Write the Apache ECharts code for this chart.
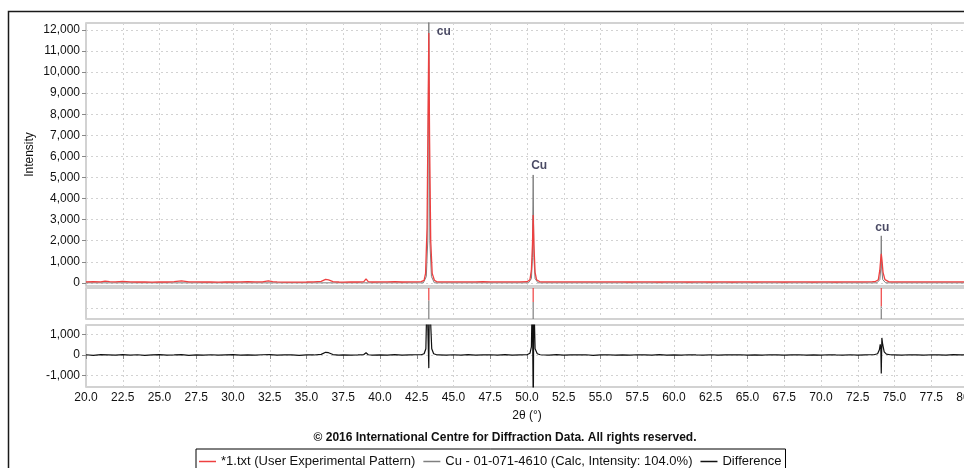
<!DOCTYPE html>
<html>
<head>
<meta charset="utf-8">
<script src="https://cdn.jsdelivr.net/npm/echarts@6/dist/echarts.min.js"></script>
<style>
  html, body { margin: 0; padding: 0; background: #fff; }
  #xrd { width: 964px; height: 468px; }
</style>
</head>
<body>
<div id="xrd"></div>
<script>
// experimental pattern (red): [2theta, counts]
const expBaseline = [
  [20.0, 45], [20.5, 60], [21.0, 50], [21.3, 85], [21.6, 55], [22.0, 48], [22.5, 70], [23.0, 42],
  [23.5, 40], [24.0, 45], [24.5, 38], [25.0, 44], [25.5, 40], [26.0, 55], [26.5, 90], [27.0, 50],
  [27.5, 42], [28.0, 40], [28.5, 45], [29.0, 38], [29.5, 42], [30.0, 40], [30.5, 48], [31.0, 55],
  [31.5, 42], [32.0, 50], [32.4, 95], [32.7, 60], [33.0, 45], [33.5, 35], [34.0, 38], [34.5, 36],
  [35.0, 40], [35.5, 45], [36.0, 70], [36.3, 160], [36.5, 140], [36.8, 60], [37.2, 40], [37.5, 38],
  [38.0, 42], [38.5, 40], [38.9, 60], [39.05, 190], [39.2, 55], [39.5, 40], [40.0, 42], [40.5, 45],
  [41.0, 60], [41.5, 40], [42.0, 42], [42.5, 45],
  [44.0, 48], [44.5, 42], [45.0, 44], [45.5, 50], [46.0, 45], [46.5, 42], [47.0, 55], [47.5, 45],
  [48.0, 48], [48.5, 44], [49.0, 50], [49.5, 46], [50.0, 55],
  [51.0, 50], [51.5, 45], [52.0, 50], [52.5, 48], [53.0, 44], [53.5, 50], [54.0, 42], [54.5, 45],
  [55.0, 48], [55.5, 44], [56.0, 42], [56.5, 46], [57.0, 40], [57.5, 44], [58.0, 42], [58.5, 48],
  [59.0, 40], [59.5, 45], [60.0, 42], [60.5, 44], [61.0, 40], [61.5, 46], [62.0, 42], [62.5, 40],
  [63.0, 44], [63.5, 42], [64.0, 40], [64.5, 45], [65.0, 42], [65.5, 40], [66.0, 44], [66.5, 48],
  [67.0, 42], [67.5, 40], [68.0, 44], [68.5, 42], [69.0, 45], [69.5, 40], [70.0, 42], [70.5, 44],
  [71.0, 40], [71.5, 46], [72.0, 42], [72.5, 44], [73.0, 48], [73.5, 55],
  [74.8, 50], [75.0, 46], [75.5, 44], [76.0, 42], [76.5, 45], [77.0, 48], [77.5, 44], [78.0, 42],
  [78.5, 46], [79.0, 44], [79.5, 50], [80.0, 48]
];
const expPeak43 = [[42.8, 55], [43.0, 120], [43.1, 450], [43.2, 2600], [43.27, 8000], [43.32, 11850], [43.37, 7000], [43.45, 2000], [43.55, 450], [43.7, 120], [43.85, 60]];
const expPeak50 = [[50.05, 60], [50.2, 150], [50.3, 600], [50.37, 1800], [50.42, 3220], [50.47, 1800], [50.55, 500], [50.65, 150], [50.85, 60]];
const expPeak74 = [[73.7, 60], [73.9, 150], [74.0, 600], [74.06, 1100], [74.1, 1380], [74.15, 1050], [74.22, 500], [74.35, 150], [74.6, 60]];

// calculated Cu pattern (grey)
const calcPattern = [
  [20.0, 0], [42.95, 0], [43.15, 300], [43.25, 2000], [43.32, 13000], [43.39, 2000], [43.5, 300], [43.7, 0],
  [50.1, 0], [50.3, 200], [50.37, 1200], [50.42, 5120], [50.47, 1200], [50.55, 200], [50.75, 0],
  [73.8, 0], [74.0, 150], [74.07, 700], [74.1, 2230], [74.13, 700], [74.2, 150], [74.4, 0], [80.0, 0]
];

// difference curve (black)
const diffBaseline = [
  [20.0, 10], [20.5, -15], [21.0, 20], [21.5, 5], [22.0, -10], [22.5, 15], [23.0, -5], [23.5, 10],
  [24.0, -20], [24.5, 5], [25.0, 15], [25.5, -10], [26.0, 0], [26.5, 20], [27.0, -15], [27.5, 5],
  [28.0, -5], [28.5, 10], [29.0, -10], [29.5, 5], [30.0, 15], [30.5, -10], [31.0, 5], [31.5, -5],
  [32.0, 10], [32.5, 20], [33.0, -10], [33.5, 0], [34.0, 5], [34.5, -15], [35.0, 5], [35.5, 0],
  [36.0, 30], [36.3, 130], [36.5, 110], [36.8, 20], [37.2, -5], [37.5, 5], [38.0, -10], [38.5, 0],
  [38.9, 20], [39.05, 110], [39.2, 10], [39.5, -5], [40.0, 5], [40.5, -10], [41.0, 15], [41.5, -5],
  [42.0, 5], [42.5, 10],
  [44.0, 5], [44.5, -10], [45.0, 10], [45.5, -5], [46.0, 15], [46.5, -10], [47.0, 5], [47.5, 10],
  [48.0, -5], [48.5, 15], [49.0, -10], [49.5, 5],
  [51.0, 10], [51.5, -5], [52.0, 15], [52.5, -10], [53.0, 5], [53.5, 0], [54.0, 10], [54.5, -15],
  [55.0, 5], [55.5, 10], [56.0, -5], [56.5, 5], [57.0, -10], [57.5, 10], [58.0, 0], [58.5, -10],
  [59.0, 15], [59.5, -5], [60.0, 5], [60.5, -10], [61.0, 10], [61.5, 0], [62.0, -5], [62.5, 10],
  [63.0, -10], [63.5, 5], [64.0, 0], [64.5, 10], [65.0, -10], [65.5, 5], [66.0, -5], [66.5, 10],
  [67.0, 0], [67.5, -10], [68.0, 5], [68.5, 10], [69.0, -5], [69.5, 5], [70.0, -10], [70.5, 10],
  [71.0, 0], [71.5, -5], [72.0, 10], [72.5, -10], [73.0, 5], [73.3, 10],
  [75.0, 5], [75.5, -5], [76.0, 10], [76.5, 0], [77.0, -10], [77.5, 10], [78.0, 5], [78.5, -5],
  [79.0, 15], [79.5, 5], [80.0, 10]
];
const diffPeak43 = [[42.8, 10], [43.0, 60], [43.12, 300], [43.2, 3000], [43.28, 3000], [43.32, -640], [43.36, 3000], [43.44, 3000], [43.52, 300], [43.65, 60], [43.85, 10]];
const diffPeak50 = [[50.0, 10], [50.2, 80], [50.3, 400], [50.36, 3000], [50.4, 3000], [50.43, -3000], [50.46, 3000], [50.5, 3000], [50.55, 300], [50.7, 60], [50.9, 10]];
const diffPeak74 = [[73.6, 10], [73.85, 60], [73.97, 250], [74.03, 520], [74.07, 300], [74.1, -900], [74.14, 830], [74.2, 500], [74.3, 150], [74.45, 40], [74.7, 10]];

// reflection sticks (middle strip): [2theta, height where grey part ends (0..1)]
const sticks = [[43.32, 0.6], [50.42, 0.55], [74.1, 0.4]];

// peak labels
const peakLabels = [
  { x: 43.32, y: 11900, text: 'cu' },
  { x: 50.42, y: 5550, text: 'Cu' },
  { x: 74.1, y: 2600, text: 'cu' }
];
const labelOffsets = [[8, 0], [-2, 0], [1, 0]];
const labelAligns = ['left', 'left', 'center'];

const seriesNames = ['*1.txt (User Experimental Pattern)', 'Cu - 01-071-4610 (Calc, Intensity: 104.0%)', 'Difference'];

const byX = (a, b) => a[0] - b[0];
const expData = [...expBaseline, ...expPeak43, ...expPeak50, ...expPeak74].sort(byX);
const diffData = [...diffBaseline, ...diffPeak43, ...diffPeak50, ...diffPeak74].sort(byX);

const RED = '#ee4040';
const GREY = '#7f7f7f';
const FONT = 'Liberation Sans, Arial, sans-serif';
const gridLine = { show: true, lineStyle: { color: '#d2d2d2', type: [2, 3], width: 1 } };

function thousands(v) {
  const s = String(Math.abs(Math.round(v))).replace(/\B(?=(\d{3})+(?!\d))/g, ',');
  return (v < 0 ? '-' : '') + s;
}

const chart = echarts.init(document.getElementById('xrd'));

const xAxes = [0, 1, 2].map(i => ({
  type: 'value',
  gridIndex: i,
  min: 20,
  max: 80,
  interval: 2.5,
  axisLine: { show: false },
  axisTick: { show: i === 2, length: 4, lineStyle: { color: '#888' } },
  axisLabel: {
    show: i === 2,
    margin: 5,
    color: '#111',
    fontSize: 12,
    fontFamily: FONT,
    formatter: v => v.toFixed(1)
  },
  splitLine: gridLine,
  name: i === 2 ? '2θ (°)' : '',
  nameLocation: 'middle',
  nameGap: 23,
  nameMoveOverlap: false,
  nameTextStyle: { color: '#111', fontSize: 12, fontFamily: FONT }
}));

const yLabel = {
  margin: 6,
  color: '#111',
  fontSize: 12,
  fontFamily: FONT,
  showMinLabel: false,
  showMaxLabel: false,
  formatter: thousands
};

const gridBase = { left: 86, right: -4, show: true, borderColor: '#c4c4c4', borderWidth: 1.5, outerBoundsMode: 'none', containLabel: false };
const legendLine = 'path://M0,0 L16,0 L16,1.4 L0,1.4 Z';

const option = {
  animation: false,
  grid: [
    Object.assign({ top: 23, height: 263 }, gridBase),
    Object.assign({ top: 288, height: 31 }, gridBase),
    Object.assign({ top: 325, height: 62 }, gridBase)
  ],
  xAxis: xAxes,
  yAxis: [
    {
      type: 'value', gridIndex: 0, min: -150, max: 12330, splitNumber: 12,
      axisLine: { show: false },
      axisTick: { show: true, length: 4, lineStyle: { color: '#888' } },
      axisLabel: yLabel,
      splitLine: gridLine,
      name: 'Intensity',
      nameLocation: 'middle',
      nameGap: 50,
      nameMoveOverlap: false,
      nameTextStyle: { color: '#111', fontSize: 12, fontFamily: FONT }
    },
    {
      type: 'value', gridIndex: 1, min: 0, max: 1,
      axisLine: { show: false }, axisTick: { show: false }, axisLabel: { show: false },
      splitLine: { show: false }
    },
    {
      type: 'value', gridIndex: 2, min: -1560, max: 1460, splitNumber: 3,
      axisLine: { show: false },
      axisTick: { show: true, length: 4, lineStyle: { color: '#888' } },
      axisLabel: yLabel,
      splitLine: gridLine
    }
  ],
  legend: {
    data: seriesNames.map(n => ({ name: n, icon: legendLine })),
    left: 196,
    top: 449,
    padding: [6, 4, 6, 3],
    itemGap: 8,
    itemWidth: 17,
    itemHeight: 14,
    borderColor: '#000',
    borderWidth: 1,
    borderRadius: 0,
    textStyle: { color: '#111', fontSize: 13, fontFamily: FONT }
  },
  graphic: [
    {
      type: 'rect',
      shape: { x: 8.5, y: 11.5, width: 1000, height: 500 },
      style: { fill: 'none', stroke: '#1a1a1a', lineWidth: 1.5 },
      silent: true
    },
    {
      type: 'text',
      x: 505,
      y: 438,
      style: {
        text: '© 2016 International Centre for Diffraction Data. All rights reserved.',
        fill: '#111',
        font: 'bold 12px ' + FONT,
        textAlign: 'center',
        textVerticalAlign: 'middle'
      },
      silent: true
    }
  ],
  series: [
    {
      name: seriesNames[0],
      type: 'line',
      xAxisIndex: 0,
      yAxisIndex: 0,
      data: expData,
      symbol: 'none',
      lineStyle: { color: RED, width: 1.3 },
      itemStyle: { color: RED },
      z: 4
    },
    {
      name: seriesNames[1],
      type: 'line',
      xAxisIndex: 0,
      yAxisIndex: 0,
      data: calcPattern,
      symbol: 'none',
      lineStyle: { color: GREY, width: 1 },
      itemStyle: { color: GREY },
      z: 3
    },
    {
      name: seriesNames[2],
      type: 'line',
      xAxisIndex: 2,
      yAxisIndex: 2,
      data: diffData,
      symbol: 'none',
      lineStyle: { color: '#111', width: 1.2 },
      itemStyle: { color: '#111' },
      z: 3
    },
    {
      name: 'sticks',
      type: 'custom',
      xAxisIndex: 1,
      yAxisIndex: 1,
      data: sticks,
      silent: true,
      renderItem(params, api) {
        const x = api.value(0);
        const s = api.value(1);
        const top = api.coord([x, 1]);
        const mid = api.coord([x, s]);
        const bot = api.coord([x, 0]);
        return {
          type: 'group',
          children: [
            { type: 'line', shape: { x1: top[0], y1: top[1], x2: mid[0], y2: mid[1] }, style: { stroke: RED, lineWidth: 1.2 } },
            { type: 'line', shape: { x1: mid[0], y1: mid[1], x2: bot[0], y2: bot[1] }, style: { stroke: GREY, lineWidth: 1.2 } }
          ]
        };
      },
      markLine: {
        silent: true,
        symbol: 'none',
        label: { show: false },
        lineStyle: { color: '#d2d2d2', type: [2, 3], width: 1 },
        data: [{ yAxis: 0.35 }]
      }
    },
    {
      name: 'labels',
      type: 'scatter',
      xAxisIndex: 0,
      yAxisIndex: 0,
      symbolSize: 0,
      silent: true,
      z: 5,
      data: peakLabels.map((p, i) => ({
        value: [p.x, p.y],
        label: {
          show: true,
          position: 'inside',
          formatter: p.text,
          align: labelAligns[i],
          offset: labelOffsets[i],
          color: '#1c1c3c',
          fontWeight: 'bold',
          fontSize: 12,
          fontFamily: FONT
        }
      }))
    }
  ]
};

chart.setOption(option);
</script>
</body>
</html>
